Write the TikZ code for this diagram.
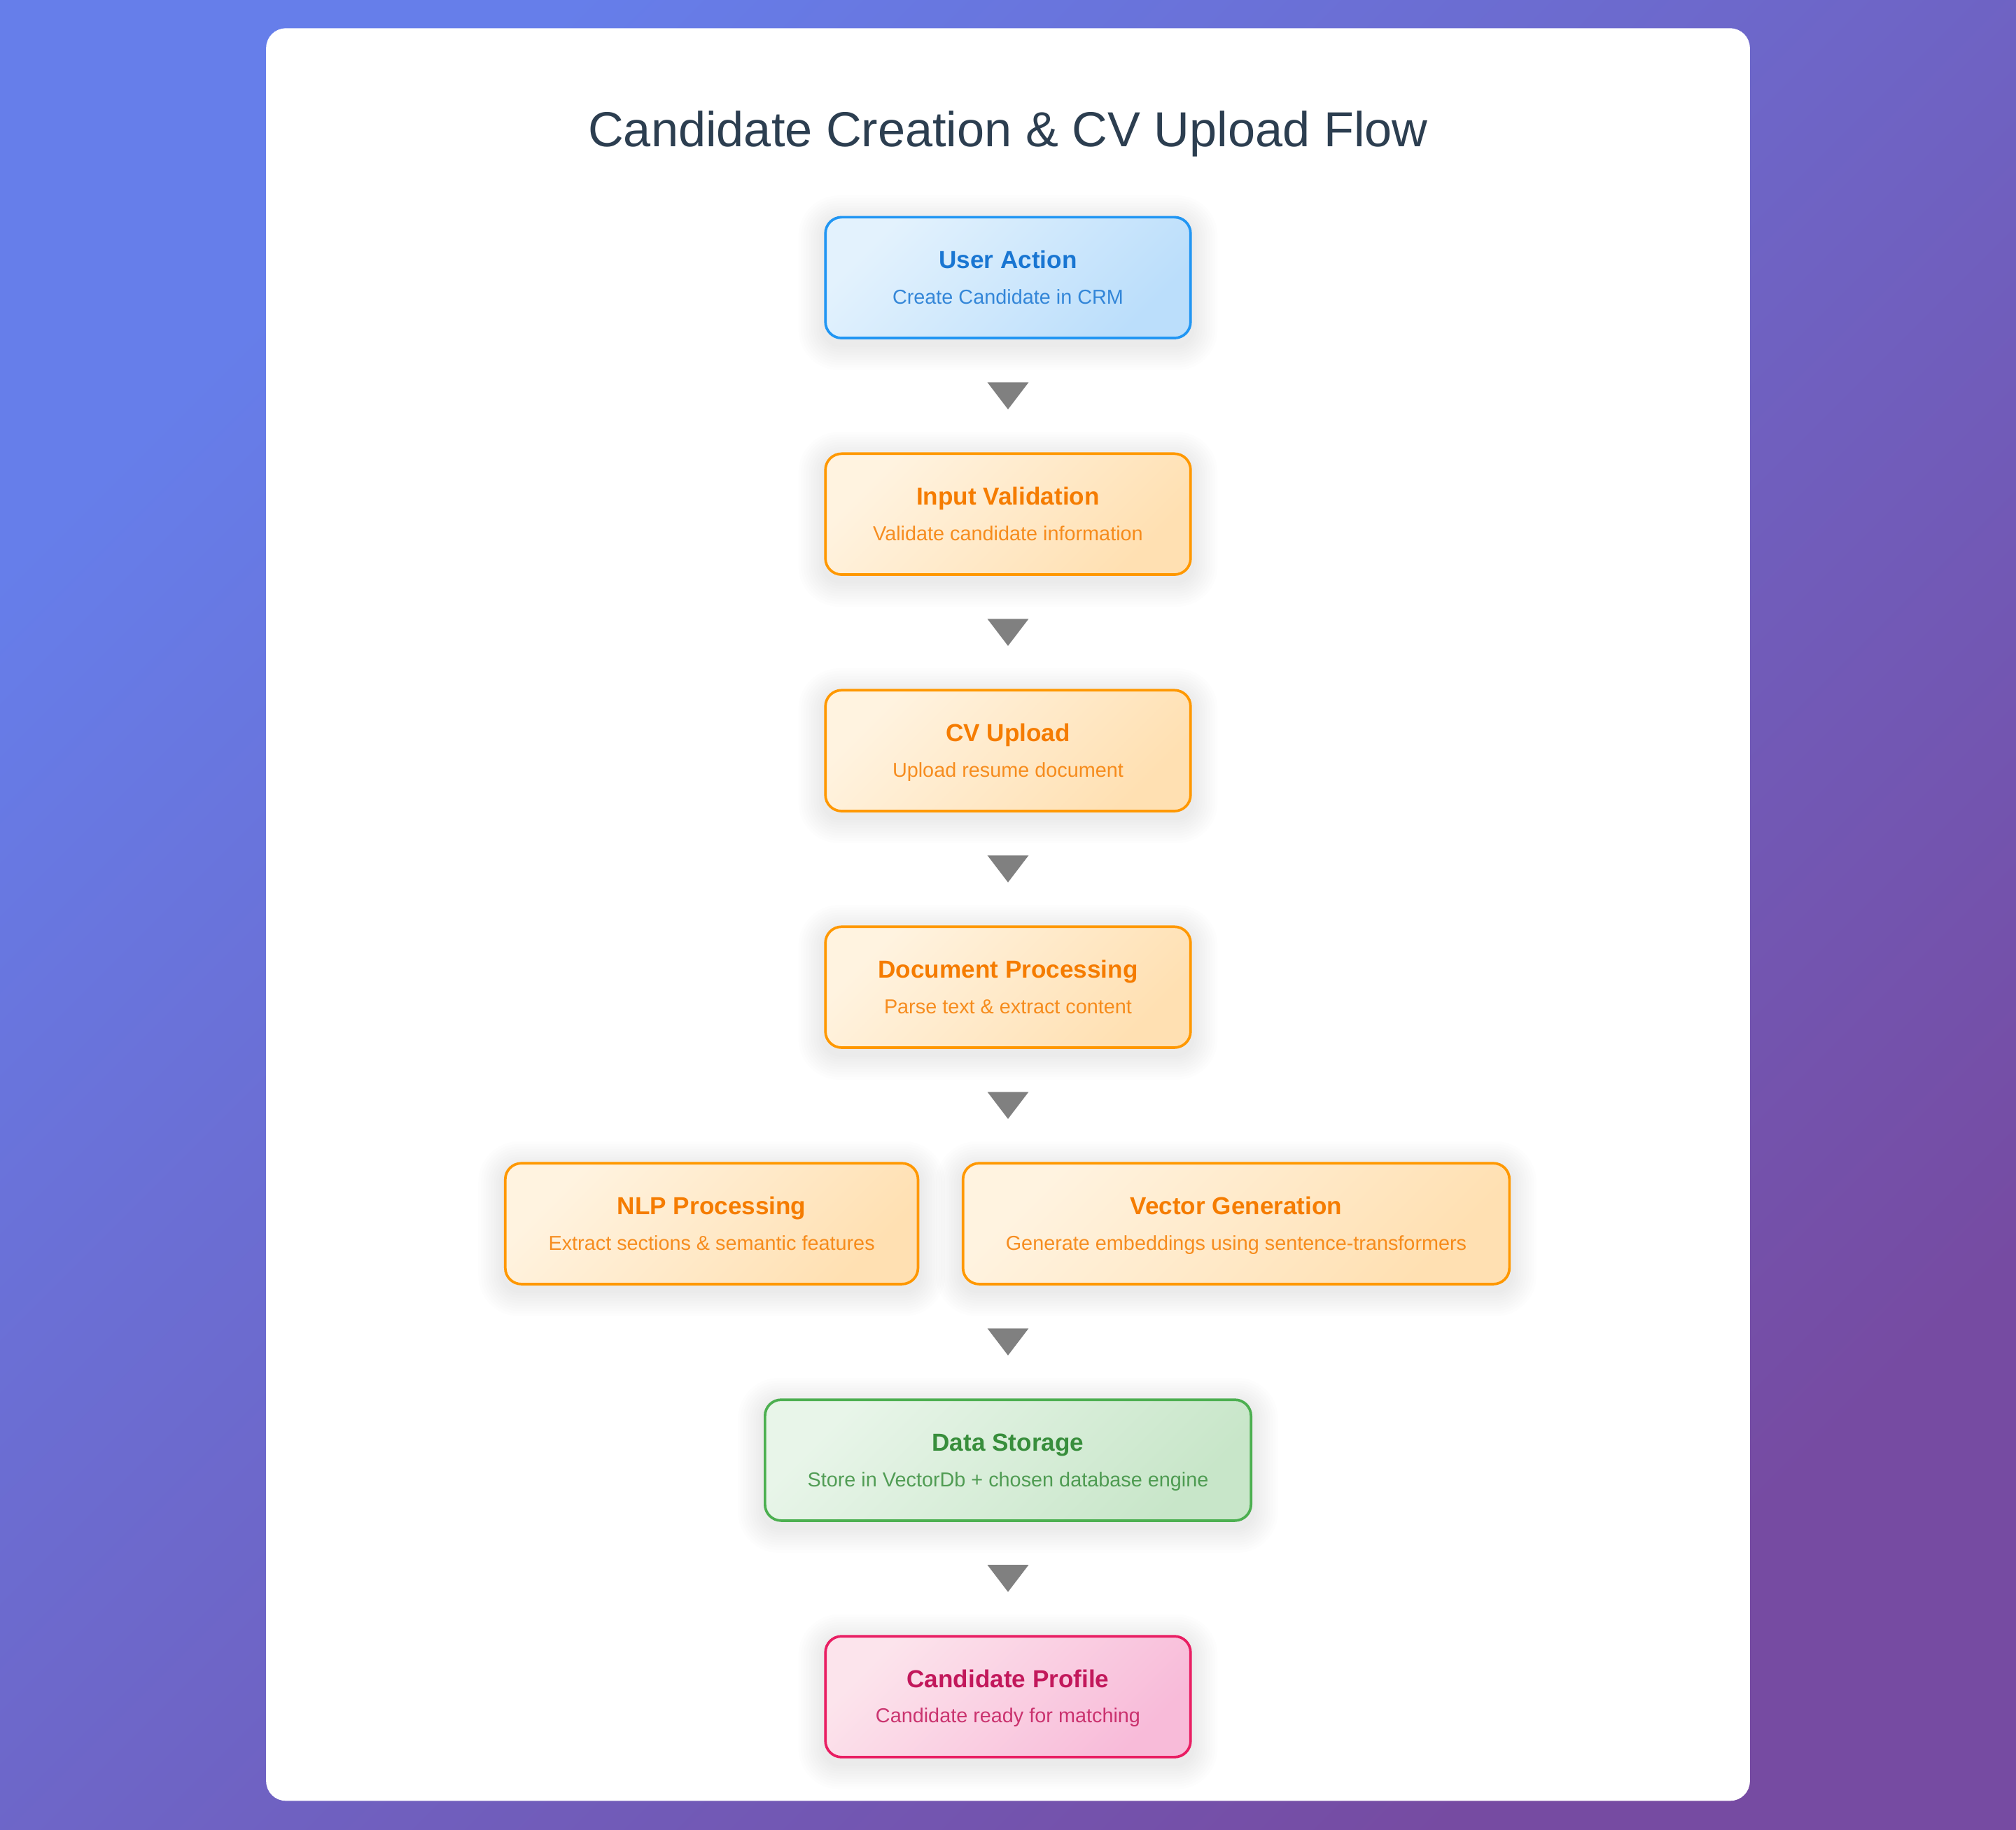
\documentclass[tikz,border=0pt]{standalone}
\usepackage{fontspec}
\setmainfont{Liberation Sans}
\usepackage{xcolor}
\usetikzlibrary{positioning}

\definecolor{bgtop}{HTML}{667EEA}
\definecolor{bgbot}{HTML}{764BA2}
\definecolor{headtxt}{HTML}{2C3E50}
\definecolor{arrowgray}{HTML}{808080}
\definecolor{bluedraw}{HTML}{2196F3}
\definecolor{bluea}{HTML}{E3F2FD}
\definecolor{blueb}{HTML}{BBDEFB}
\definecolor{bluetxt}{HTML}{1976D2}
\definecolor{orangedraw}{HTML}{FF9800}
\definecolor{orangea}{HTML}{FFF3E0}
\definecolor{orangeb}{HTML}{FFE0B2}
\definecolor{orangetxt}{HTML}{F57C00}
\definecolor{greendraw}{HTML}{4CAF50}
\definecolor{greena}{HTML}{E8F5E9}
\definecolor{greenb}{HTML}{C8E6C9}
\definecolor{greentxt}{HTML}{388E3C}
\definecolor{pinkdraw}{HTML}{E91E63}
\definecolor{pinka}{HTML}{FCE4EC}
\definecolor{pinkb}{HTML}{F8BBD9}
\definecolor{pinktxt}{HTML}{C2185B}

\newcommand{\px}{0.18367mm}
\pgfdeclarelayer{back}
\pgfdeclarelayer{shade}
\pgfsetlayers{back,shade,main}

\tikzset{
  stage/.style={line width=0.37mm, rounded corners=2.3mm, minimum height=17.27mm, inner sep=0pt},
  bluestage/.style={stage, draw=bluedraw, top color=bluea, bottom color=blueb, shading angle=45},
  orangestage/.style={stage, draw=orangedraw, top color=orangea, bottom color=orangeb, shading angle=45},
  greenstage/.style={stage, draw=greendraw, top color=greena, bottom color=greenb, shading angle=45},
  pinkstage/.style={stage, draw=pinkdraw, top color=pinka, bottom color=pinkb, shading angle=45},
  stitle/.style={anchor=base, inner sep=0pt, font=\fontsize{10}{12}\selectfont\bfseries},
  sdesc/.style={anchor=base, inner sep=0pt, font=\fontsize{8.2}{10}\selectfont, text opacity=0.85},
  flowtri/.style={fill=arrowgray},
  softshadow/.style={fill=black, fill opacity=0.007}
}

\begin{document}
\begin{tikzpicture}[x=\px, y=\px]
      \begin{pgfonlayer}{back}
      \path[top color=bgtop, bottom color=bgbot, shading angle=45] (0,0) rectangle (1568,-1423.2);
      \fill[white, rounded corners=2.8mm] (207,-22) rectangle (1361,-1401);
      \end{pgfonlayer}
      \node[anchor=base, inner sep=0pt, text=headtxt, font=\fontsize{20}{24}\selectfont] (head) at (784,-114.3) {Candidate Creation \& CV Upload Flow};

      \node[bluestage, minimum width=52.16mm] (ua) at (784,-216) {};
      \node[orangestage, minimum width=52.16mm] (iv) at (784,-400) {};
      \node[orangestage, minimum width=52.16mm] (cv) at (784,-584) {};
      \node[orangestage, minimum width=52.16mm] (dp) at (784,-768) {};
      \node[orangestage, minimum width=58.96mm] (nlp) at (553.5,-952) {};
      \node[orangestage, minimum width=78.06mm] (vg) at (961.5,-952) {};
      \node[greenstage, minimum width=69.43mm] (ds) at (784,-1136) {};
      \node[pinkstage, minimum width=52.16mm] (cp) at (784,-1320) {};
      \coordinate (row) at (dp |- nlp);

      \node[stitle, text=bluetxt] (ua-t) at ([yshift=7*\px]ua.center) {User Action};
      \node[sdesc, text=bluetxt] (ua-d) at ([yshift=-20.4*\px]ua.center) {Create Candidate in CRM};
      \begin{scope}[every node/.append style={text=orangetxt}]
      \node[stitle] (iv-t) at ([yshift=7*\px]iv.center) {Input Validation};
      \node[sdesc] (iv-d) at ([yshift=-20.4*\px]iv.center) {Validate candidate information};
      \node[stitle] (cv-t) at ([yshift=7*\px]cv.center) {CV Upload};
      \node[sdesc] (cv-d) at ([yshift=-20.4*\px]cv.center) {Upload resume document};
      \node[stitle] (dp-t) at ([yshift=7*\px]dp.center) {Document Processing};
      \node[sdesc] (dp-d) at ([yshift=-20.4*\px]dp.center) {Parse text \& extract content};
      \node[stitle] (nlp-t) at ([yshift=7*\px]nlp.center) {NLP Processing};
      \node[sdesc] (nlp-d) at ([yshift=-20.4*\px]nlp.center) {Extract sections \& semantic features};
      \node[stitle] (vg-t) at ([yshift=7*\px]vg.center) {Vector Generation};
      \node[sdesc] (vg-d) at ([yshift=-20.4*\px]vg.center) {Generate embeddings using sentence-transformers};
      \end{scope}
      \node[stitle, text=greentxt] (ds-t) at ([yshift=7*\px]ds.center) {Data Storage};
      \node[sdesc, text=greentxt] (ds-d) at ([yshift=-20.4*\px]ds.center) {Store in VectorDb + chosen database engine};
      \node[stitle, text=pinktxt] (cp-t) at ([yshift=7*\px]cp.center) {Candidate Profile};
      \node[sdesc, text=pinktxt] (cp-d) at ([yshift=-20.4*\px]cp.center) {Candidate ready for matching};

      \begin{pgfonlayer}{shade}
      \foreach \n in {ua,iv,cv,dp,nlp,vg,ds,cp}
        \foreach \k in {1,...,10}
          \fill[softshadow, rounded corners=2.3mm+\k*0.35mm] ([shift={(-\k*2,-4-\k*2)}]\n.south west) rectangle ([shift={(\k*2,-4+\k*2)}]\n.north east);
      \end{pgfonlayer}

      \foreach \a/\b in {ua/iv, iv/cv, cv/dp, dp/row, row/ds, ds/cp} {
        \path (\a.center) -- (\b.center) coordinate[midway] (m-\a);
        \fill[flowtri] (m-\a) ++(-16,10.5) -- ++(32,0) -- ++(-16,-21) -- cycle;
      }
\end{tikzpicture}
\end{document}
